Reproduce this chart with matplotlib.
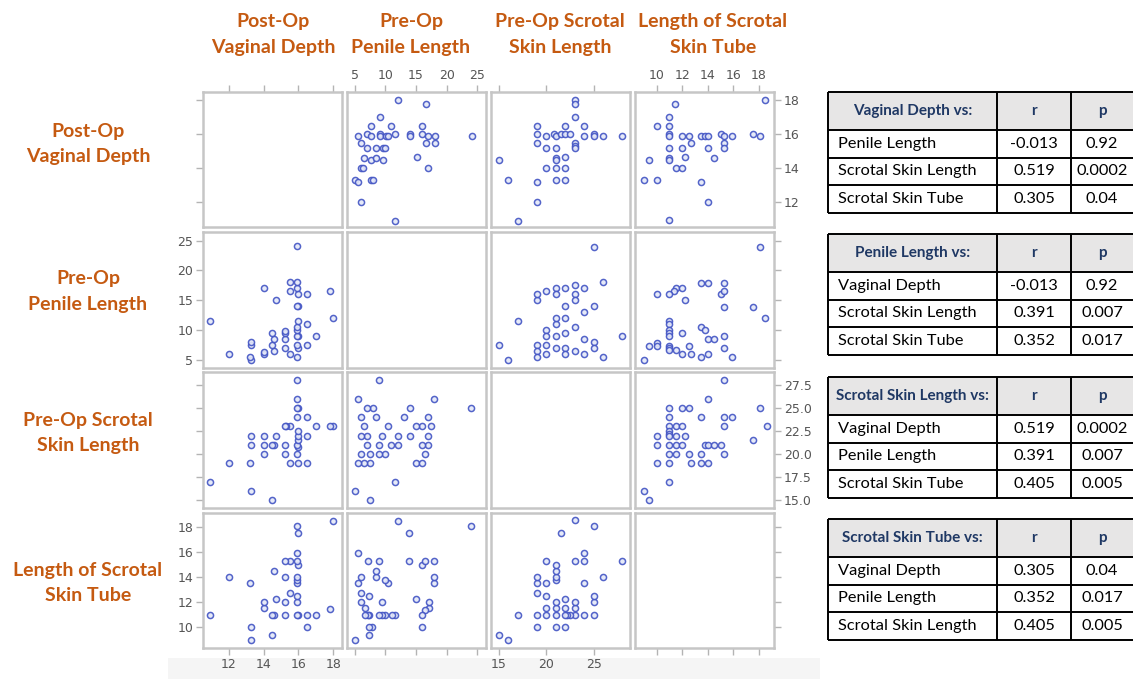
import numpy as np
import matplotlib.pyplot as plt
from matplotlib.patches import Rectangle

plt.rcParams['font.family'] = ['Lato', 'DejaVu Sans']

W, H = 1133, 679

var_titles = ['Post-Op\nVaginal Depth', 'Pre-Op\nPenile Length',
              'Pre-Op Scrotal\nSkin Length', 'Length of Scrotal\nSkin Tube']
var_lims = [(10.52, 18.5), (3.75, 26.4), (14.15, 28.85), (8.32, 19.17)]
x_ticks = [[12, 14, 16, 18], [5, 10, 15, 20, 25], [15, 20, 25], [10, 12, 14, 16, 18]]
y_ticks = [[12, 14, 16, 18], [5, 10, 15, 20, 25],
           [15.0, 17.5, 20.0, 22.5, 25.0, 27.5], [10, 12, 14, 16, 18]]
y_fmt = ['{:g}', '{:g}', '{:.1f}', '{:g}']

# vaginal depth / penile length
vp_vd = [18.0, 17.8, 17.0, 16.5, 16.5, 16.5, 15.9, 16.0, 15.9, 16.0, 15.9, 15.9, 15.9, 16.0,
         16.0, 15.9, 16.0, 15.9, 15.9, 15.9, 15.5, 15.5, 15.5, 15.2, 15.2, 15.2, 15.2, 14.6,
         14.5, 14.6, 14.5, 14.7, 14.0, 14.0, 14.0, 13.3, 13.2, 13.3, 13.3, 12.0, 10.9]
vp_pl = [12.0, 16.6, 9.1, 7.6, 11.0, 16.0, 5.5, 7.0, 7.6, 9.1, 9.1, 10.1, 10.5, 11.6,
         14.0, 14.0, 16.0, 17.0, 18.1, 24.1, 6.1, 16.6, 18.1, 7.0, 8.5, 9.6, 9.9, 6.6,
         7.6, 8.5, 9.6, 15.1, 6.1, 6.3, 17.0, 5.05, 5.6, 7.6, 8.0, 6.1, 11.6]

# vaginal depth / scrotal skin length
vs_vd = [18.0, 17.8, 17.0, 16.5, 16.5, 16.5, 16.0, 15.9, 16.0, 15.9, 16.0, 16.0, 16.0, 15.9,
         16.0, 15.9, 15.9, 15.9, 15.5, 15.5, 15.3, 15.2, 15.2, 15.2, 14.7, 14.6, 14.5, 14.0,
         14.0, 14.0, 14.5, 13.3, 13.2, 13.3, 13.3, 12.0, 10.9]
vs_sl = [23.0, 23.0, 23.0, 19.0, 22.0, 24.0, 19.0, 20.0, 20.8, 21.0, 21.5, 22.0, 22.5, 24.0,
         25.0, 25.0, 26.0, 28.0, 19.0, 23.0, 23.0, 23.0, 20.0, 21.0, 22.0, 21.0, 21.0, 20.0,
         21.0, 22.0, 15.0, 16.0, 19.0, 21.0, 22.0, 19.0, 17.0]

# vaginal depth / scrotal skin tube
vt_vd = [18.0, 17.8, 17.0, 16.5, 16.5, 16.0, 15.9, 15.9, 15.9, 15.5, 15.9, 15.9, 15.9, 16.0,
         15.9, 15.9, 16.0, 15.9, 15.5, 15.2, 15.2, 15.2, 15.2, 14.7, 14.6, 14.5, 14.6, 14.5,
         14.0, 14.0, 13.3, 13.3, 13.2, 12.0, 10.95]
vt_st = [18.5, 11.45, 10.95, 10.0, 10.95, 10.95, 10.95, 12.0, 12.5, 12.7, 13.5, 13.75, 14.0,
         15.0, 15.3, 15.9, 17.5, 18.1, 15.3, 15.3, 10.95, 12.0, 14.0, 12.25, 14.5, 9.4, 10.95,
         10.95, 11.5, 12.0, 9.0, 10.0, 13.5, 14.0, 10.95]

# penile length / scrotal skin length
ps_pl = [24.0, 18.0, 17.0, 17.0, 17.0, 16.5, 16.0, 16.0, 15.0, 15.0, 14.0, 14.0, 13.0, 12.0,
         11.5, 11.0, 10.5, 10.0, 9.5, 9.0, 9.0, 8.5, 8.0, 7.5, 7.5, 7.5, 7.0, 7.0, 7.0, 6.5,
         6.5, 6.0, 6.0, 6.0, 5.5, 5.5, 5.0, 9.0, 12.0, 16.0, 17.5]
ps_sl = [25.0, 26.0, 21.0, 22.0, 24.0, 20.0, 21.0, 23.0, 19.0, 23.0, 22.0, 25.0, 24.0, 22.0,
         17.0, 21.0, 23.0, 20.0, 22.0, 21.0, 28.0, 24.0, 25.0, 15.0, 19.0, 20.0, 21.0, 22.0,
         25.0, 19.0, 23.0, 20.0, 22.0, 24.0, 19.0, 26.0, 16.0, 20.0, 21.0, 19.0, 23.0]

# penile length / scrotal skin tube
pt_pl = [23.9, 17.9, 17.9, 17.9, 17.1, 17.1, 16.5, 16.0, 16.0, 16.0, 16.5, 15.0, 13.9, 13.9,
         12.1, 11.5, 11.1, 10.0, 9.5, 9.0, 9.5, 10.5, 10.0, 8.5, 8.5, 9.0, 7.9, 7.4, 7.4, 7.4,
         7.1, 6.7, 6.7, 6.1, 7.4, 6.1, 5.6, 6.1, 7.1, 5.6, 5.05]
pt_st = [18.1, 13.5, 14.0, 15.3, 11.5, 12.0, 11.4, 10.0, 10.95, 15.0, 15.3, 12.25, 15.3, 17.5,
         18.5, 10.95, 10.95, 10.95, 10.95, 10.95, 12.0, 13.5, 13.8, 14.0, 14.5, 15.3, 10.0,
         10.0, 9.4, 10.95, 10.95, 10.95, 11.5, 12.0, 12.5, 12.7, 13.5, 14.0, 15.3, 15.9, 9.0]

# scrotal skin length / scrotal skin tube
st_sl = [28.0, 26.0, 25.0, 25.0, 25.0, 25.0, 24.0, 24.0, 24.0, 24.0, 23.0, 22.5, 22.2, 23.0,
         23.0, 23.0, 23.0, 22.0, 22.0, 22.0, 22.0, 21.0, 21.0, 21.0, 21.0, 21.0, 21.0, 21.0,
         21.0, 21.5, 20.0, 20.0, 20.0, 20.0, 20.0, 19.0, 19.0, 19.0, 19.0, 19.0, 17.0, 16.0, 15.0]
st_st = [15.3, 14.0, 10.95, 12.0, 12.5, 18.1, 10.95, 13.5, 15.3, 15.9, 10.95, 10.95, 10.95,
         11.5, 12.0, 15.3, 18.6, 10.0, 10.95, 11.5, 12.25, 10.0, 10.95, 11.5, 12.0, 13.75, 14.0,
         14.5, 15.0, 17.5, 10.95, 11.5, 12.5, 13.5, 15.3, 10.0, 10.95, 12.7, 13.5, 14.0, 10.95,
         9.0, 9.4]

pairs = {
    (0, 1): (vp_vd, vp_pl), (0, 2): (vs_vd, vs_sl), (0, 3): (vt_vd, vt_st),
    (1, 2): (ps_pl, ps_sl), (1, 3): (pt_pl, pt_st), (2, 3): (st_sl, st_st),
}

tbl_heads = ['Vaginal Depth vs:', 'Penile Length vs:', 'Scrotal Skin Length vs:', 'Scrotal Skin Tube vs:']
tbl_names = [['Penile Length', 'Scrotal Skin Length', 'Scrotal Skin Tube'],
             ['Vaginal Depth', 'Scrotal Skin Length', 'Scrotal Skin Tube'],
             ['Vaginal Depth', 'Penile Length', 'Scrotal Skin Tube'],
             ['Vaginal Depth', 'Penile Length', 'Scrotal Skin Length']]
tbl_r = [['-0.013', '0.519', '0.305'], ['-0.013', '0.391', '0.352'],
         ['0.519', '0.391', '0.405'], ['0.305', '0.352', '0.405']]
tbl_p = [['0.92', '0.0002', '0.04'], ['0.92', '0.007', '0.017'],
         ['0.0002', '0.007', '0.005'], ['0.04', '0.017', '0.005']]

orange = '#c55a11'
navy = '#1f3864'
dot = '#4254c4'

fig = plt.figure(figsize=(W / 100, H / 100), dpi=100)
bg = fig.add_axes([0, 0, 1, 1])
bg.set_xlim(0, W)
bg.set_ylim(H, 0)
bg.axis('off')

# faint band under the matrix
bg.add_patch(Rectangle((168, 658), 652, 30, facecolor='#f5f5f5', edgecolor='none'))

col_x = [203, 347, 491, 635]
row_y = [92, 232.2, 372.4, 512.6]
pw, ph = 139, 135.5

for r in range(4):
    for c in range(4):
        ax = fig.add_axes([col_x[c] / W, 1 - (row_y[r] + ph) / H, pw / W, ph / H])
        ax.set_xlim(var_lims[c])
        ax.set_ylim(var_lims[r])
        for s in ax.spines.values():
            s.set_color('#c6c6c6')
            s.set_linewidth(1.8)
        ax.set_xticks(x_ticks[c])
        ax.set_xticklabels([str(v) for v in x_ticks[c]])
        ax.set_yticks(y_ticks[r])
        ax.set_yticklabels([y_fmt[r].format(v) for v in y_ticks[r]])
        ax.tick_params(which='both', direction='out', length=5, width=1, color='#b4b4b4',
                       labelcolor='#555555', labelsize=9, pad=2,
                       top=(r == 0), bottom=(r == 3), left=(c == 0), right=(c == 3),
                       labeltop=(r == 0 and c % 2 == 1), labelbottom=(r == 3 and c % 2 == 0),
                       labelleft=(c == 0 and r % 2 == 1), labelright=(c == 3 and r % 2 == 0))
        for lab in ax.get_xticklabels() + ax.get_yticklabels():
            lab.set_family('DejaVu Sans')
        if r != c:
            i, j = min(r, c), max(r, c)
            a, b = pairs[(i, j)]
            xs, ys = (a, b) if c == i else (b, a)
            ax.plot(xs, ys, 'o', ms=4.4, mfc='#e4e8f8', mec=dot, mew=1.1, alpha=0.9)

# variable titles
col_cx = [273, 411, 560, 713]
row_cy = [144, 291.5, 433, 583]
for k, t in enumerate(var_titles):
    bg.text(col_cx[k], 34.5, t, ha='center', va='center', color=orange,
            fontsize=14, fontweight='bold', linespacing=1.6)
    bg.text(88, row_cy[k], t, ha='center', va='center', color=orange,
            fontsize=14, fontweight='bold', linespacing=1.6)

# correlation tables
tx = [828, 997, 1071, 1140]
t_top = [92, 234, 377, 519]
head_h, row_h = 38, 27.5
for k in range(4):
    y0 = t_top[k]
    bg.add_patch(Rectangle((tx[0], y0), tx[3] - tx[0], head_h, facecolor='#e7e6e6',
                           edgecolor='none'))
    ys = [y0, y0 + head_h] + [y0 + head_h + row_h * (m + 1) for m in range(3)]
    for yy in ys:
        bg.plot([tx[0], tx[3]], [yy, yy], color='black', lw=1.4, solid_capstyle='butt')
    for xx in tx:
        bg.plot([xx, xx], [ys[0], ys[-1]], color='black', lw=1.4, solid_capstyle='butt')
    hy = y0 + head_h / 2
    bg.text((tx[0] + tx[1]) / 2, hy, tbl_heads[k], ha='center', va='center', color=navy,
            fontsize=11, fontweight='bold')
    bg.text((tx[1] + tx[2]) / 2, hy, 'r', ha='center', va='center', color=navy,
            fontsize=11, fontweight='bold')
    bg.text((tx[2] + 1133) / 2, hy, 'p', ha='center', va='center', color=navy,
            fontsize=11, fontweight='bold')
    for m in range(3):
        cy = y0 + head_h + row_h * (m + 0.5)
        bg.text(tx[0] + 10, cy, tbl_names[k][m], ha='left', va='center', color='black',
                fontsize=11.8)
        bg.text((tx[1] + tx[2]) / 2, cy, tbl_r[k][m], ha='center', va='center',
                color='black', fontsize=11.8)
        bg.text((tx[2] + 1133) / 2, cy, tbl_p[k][m], ha='center', va='center',
                color='black', fontsize=11.8)

fig.savefig('out.png', dpi=100)
